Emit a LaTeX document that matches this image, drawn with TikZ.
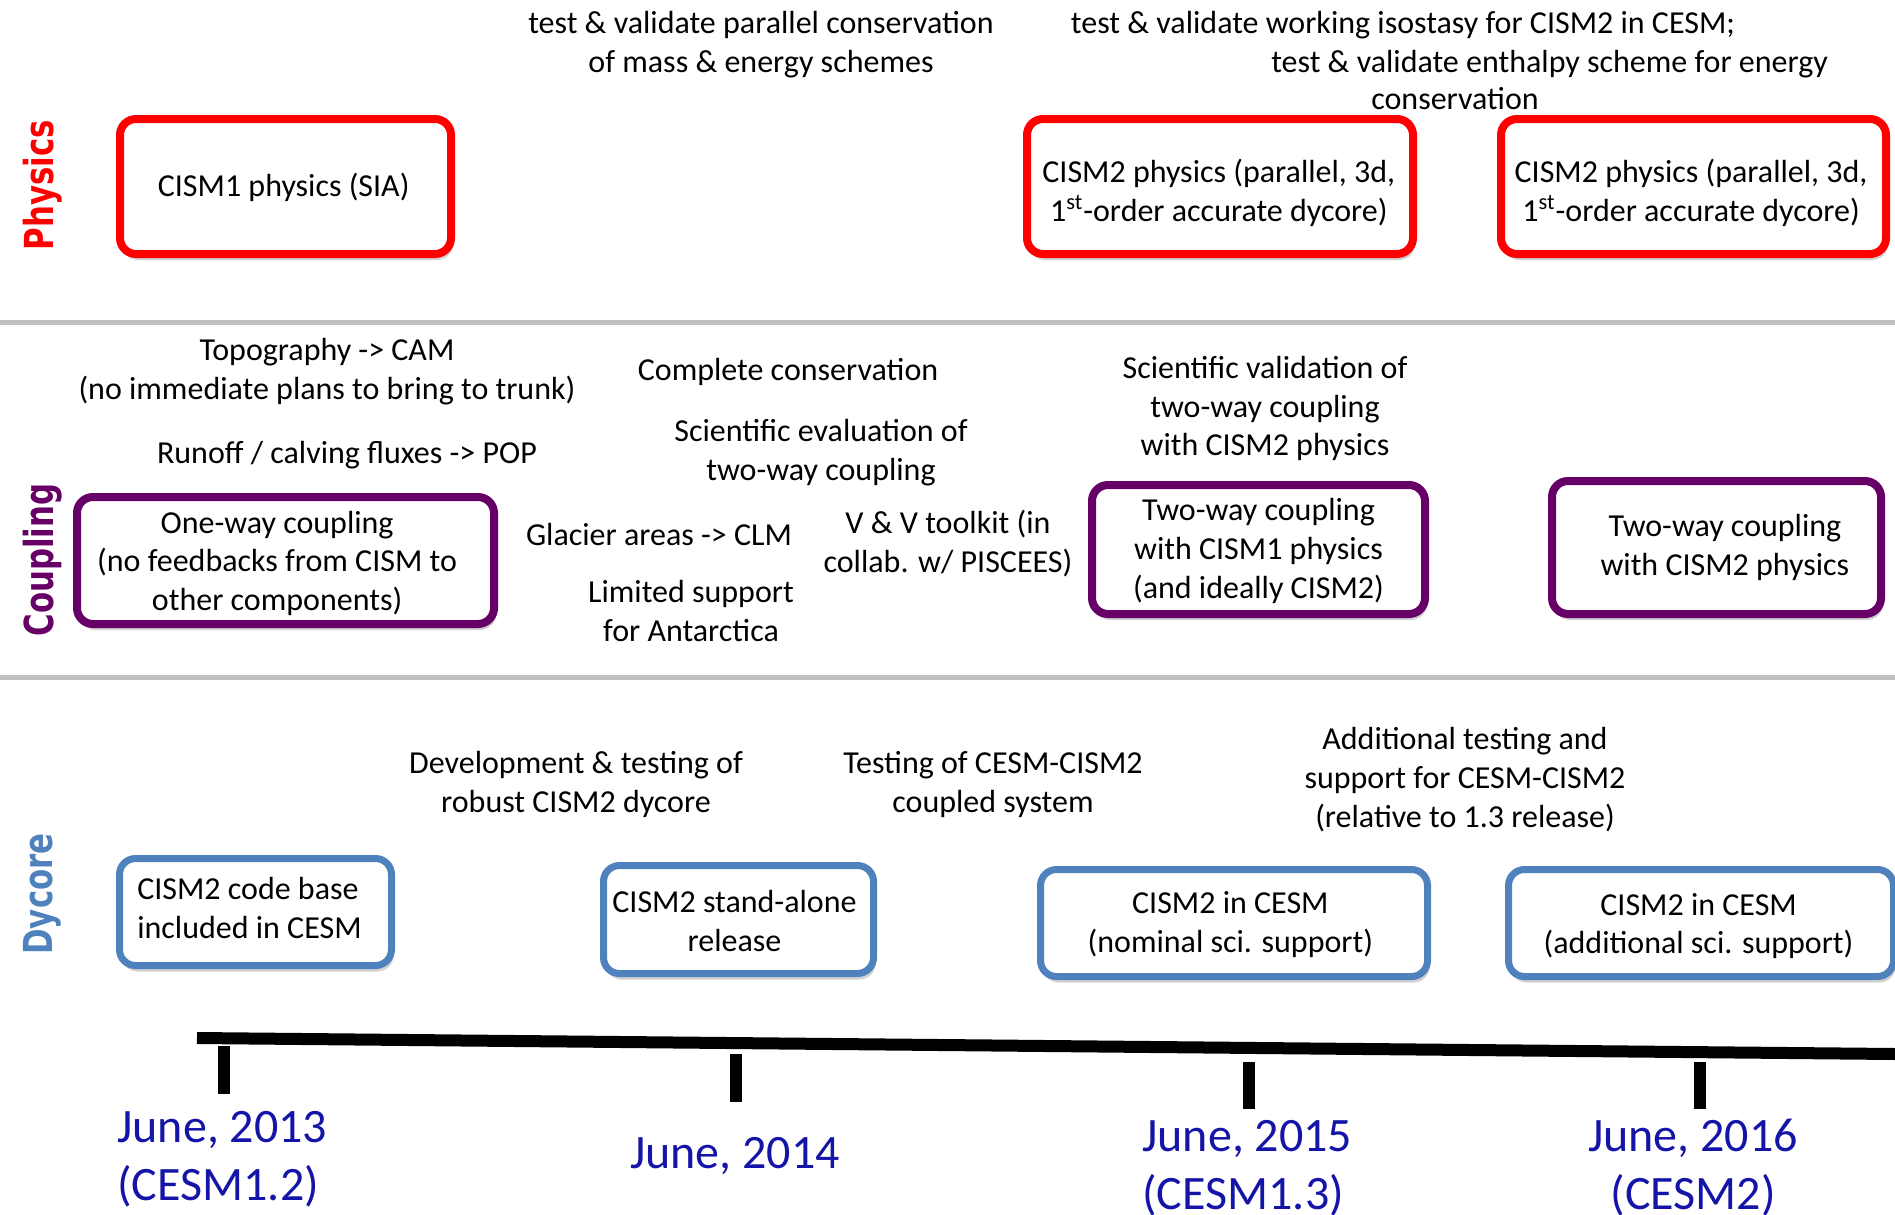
\documentclass[tikz,border=0pt]{standalone}
\usepackage{fontspec}
\setmainfont{Carlito}
\newfontfamily\sidefont{DejaVu Sans}
\usetikzlibrary{shadows}
\definecolor{phyred}{HTML}{FF0000}
\definecolor{cpurple}{HTML}{660066}
\definecolor{dblue}{HTML}{4F81BD}
\definecolor{dateblue}{HTML}{1414A8}
\definecolor{sepgray}{HTML}{C0C0C0}
\begin{document}
\begin{tikzpicture}[x=0.5pt,y=-0.5pt,
  mainfont/.style={font=\fontsize{16}{19.4}\selectfont},
  box/.style={fill=white, inner sep=0pt, rounded corners=8pt,
    drop shadow={shadow xshift=1pt, shadow yshift=-3pt, opacity=0.3, fill=black!60}},
  phys/.style={box, draw=phyred, line width=4pt},
  coup/.style={box, draw=cpurple, line width=4pt},
  dyc/.style={box, draw=dblue, line width=3.5pt},
  txt/.style={mainfont, align=center, inner sep=0pt},
  datelbl/.style={text=dateblue, font=\fontsize{24}{29}\selectfont, inner sep=0pt},
  side/.style={rotate=90, inner sep=0pt, font=\sidefont\bfseries\fontsize{20}{24}\selectfont},
  sepline/.style={draw=sepgray, line width=2.5pt},
  tline/.style={draw=black, line width=6pt}]
\useasboundingbox (0,0) rectangle (1895,1215);

% section separators
\draw[sepline] (0,322) -- (1895,322);
\draw[sepline] (0,677) -- (1895,677);

% side labels
\node[side, text=phyred] (lphys) at (43,185) {\scalebox{0.77}[1]{Physics}};
\node[side, text=cpurple] (lcoup) at (43,560) {\scalebox{0.77}[1]{Coupling}};
\node[side, text=dblue] (ldyc) at (42,894) {\scalebox{0.77}[1]{Dycore}};

% physics boxes
\node[phys, minimum width=165.5pt, minimum height=67.5pt] (p1) at (285.5,186.5) {};
\node[phys, minimum width=193pt, minimum height=67.5pt] (p2) at (1220,186.5) {};
\node[phys, minimum width=192.5pt, minimum height=67.5pt] (p3) at (1693.5,186.5) {};
\node[txt] (p1t) at ([xshift=-0.9pt, yshift=-0.6pt]p1.center) {CISM1 physics (SIA)};
\node[txt] (p2t) at ([xshift=-0.6pt, yshift=-3.3pt]p2.center) {CISM2 physics (parallel, 3d,\\1\textsuperscript{st}-order accurate dycore)};
\node[txt] (p3t) at ([xshift=-1.2pt, yshift=-3.3pt]p3.center) {CISM2 physics (parallel, 3d,\\1\textsuperscript{st}-order accurate dycore)};
\node[txt] (t1) at (761,44.3) {test \& validate parallel conservation\\of mass \& energy schemes};
\node[txt] (t2) at (1403,25.3) {test \& validate working isostasy for CISM2 in CESM;};
\node[txt] (t3) at (1549.6,64.3) {test \& validate enthalpy scheme for energy};
\node[txt] (t4) at (1455,99) {conservation};

% coupling boxes
\node[coup, minimum width=208.5pt, minimum height=63.5pt] (c1) at (285.5,560.5) {};
\node[coup, minimum width=166.5pt, minimum height=64.5pt] (c2) at (1258.5,549.5) {};
\node[coup, minimum width=164.5pt, minimum height=66.5pt] (c3) at (1716.5,547.5) {};
\node[txt] (c1t) at ([xshift=-4.2pt, yshift=-1.4pt]c1.center) {One-way coupling\\(no feedbacks from CISM to\\other components)};
\node[txt] (c2t) at ([yshift=-0.6pt]c2.center) {Two-way coupling\\with CISM1 physics\\(and ideally CISM2)};
\node[txt] (c3t) at ([xshift=4.2pt]c3.center) {Two-way coupling\\with CISM2 physics};
\node[txt] (u1) at (327,371.5) {Topography -> CAM\\(no immediate plans to bring to trunk)};
\node[txt] (u2) at (347,455.5) {Runoff / calving fluxes -> POP};
\node[txt] (u3) at (788,371.5) {Complete conservation};
\node[txt] (u4) at (821,453) {Scientific evaluation of\\two-way coupling};
\node[txt] (u5) at (659,534.5) {Glacier areas -> CLM};
\node[txt] (u6) at (691,610.6) {Limited support\\for Antarctica};
\node[txt] (u7) at (948,543.5) {V \& V toolkit (in\\collab. w/ PISCEES)};
\node[txt] (u8) at (1265,408.5) {Scientific validation of\\two-way coupling\\with CISM2 physics};

% dycore boxes
\node[dyc, minimum width=136pt, minimum height=53.5pt] (d1) at (255.5,912) {};
\node[dyc, minimum width=135pt, minimum height=54pt] (d2) at (738.5,919.5) {};
\node[dyc, minimum width=193.5pt, minimum height=53.5pt] (d3) at (1234,923) {};
\node[dyc, minimum width=192.5pt, minimum height=53.5pt] (d4) at (1701,923) {};
\node[txt, align=left] (d1t) at ([xshift=-3pt, yshift=2.1pt]d1.center) {CISM2 code base\\included in CESM};
\node[txt] (d2t) at ([xshift=-2pt, yshift=-0.6pt]d2.center) {CISM2 stand-alone\\release};
\node[txt] (d3t) at ([xshift=-1.8pt, yshift=-0.9pt]d3.center) {CISM2 in CESM\\(nominal sci. support)};
\node[txt] (d4t) at ([xshift=-1.2pt, yshift=-1.5pt]d4.center) {CISM2 in CESM\\(additional sci. support)};
\node[txt] (v1) at (576,784.5) {Development \& testing of\\robust CISM2 dycore};
\node[txt] (v2) at (993,784.5) {Testing of CESM-CISM2\\coupled system};
\node[txt] (v3) at (1465,779.5) {Additional testing and\\support for CESM-CISM2\\(relative to 1.3 release)};

% timeline
\draw[tline] (197,1038) -- (1895,1054);
\draw[tline] (224,1046) -- (224,1094);
\draw[tline] (736,1054) -- (736,1102);
\draw[tline] (1249,1062) -- (1249,1109);
\draw[tline] (1700,1062) -- (1700,1109);

\node[datelbl, anchor=west, align=left] (y13) at (117,1159) {June, 2013\\(CESM1.2)};
\node[datelbl] (y14) at (735,1155.5) {June, 2014};
\node[datelbl, anchor=west, align=left] (y15) at (1142,1168) {June, 2015\\(CESM1.3)};
\node[datelbl, align=center] (y16) at (1693,1168) {June, 2016\\(CESM2)};
\end{tikzpicture}
\end{document}
